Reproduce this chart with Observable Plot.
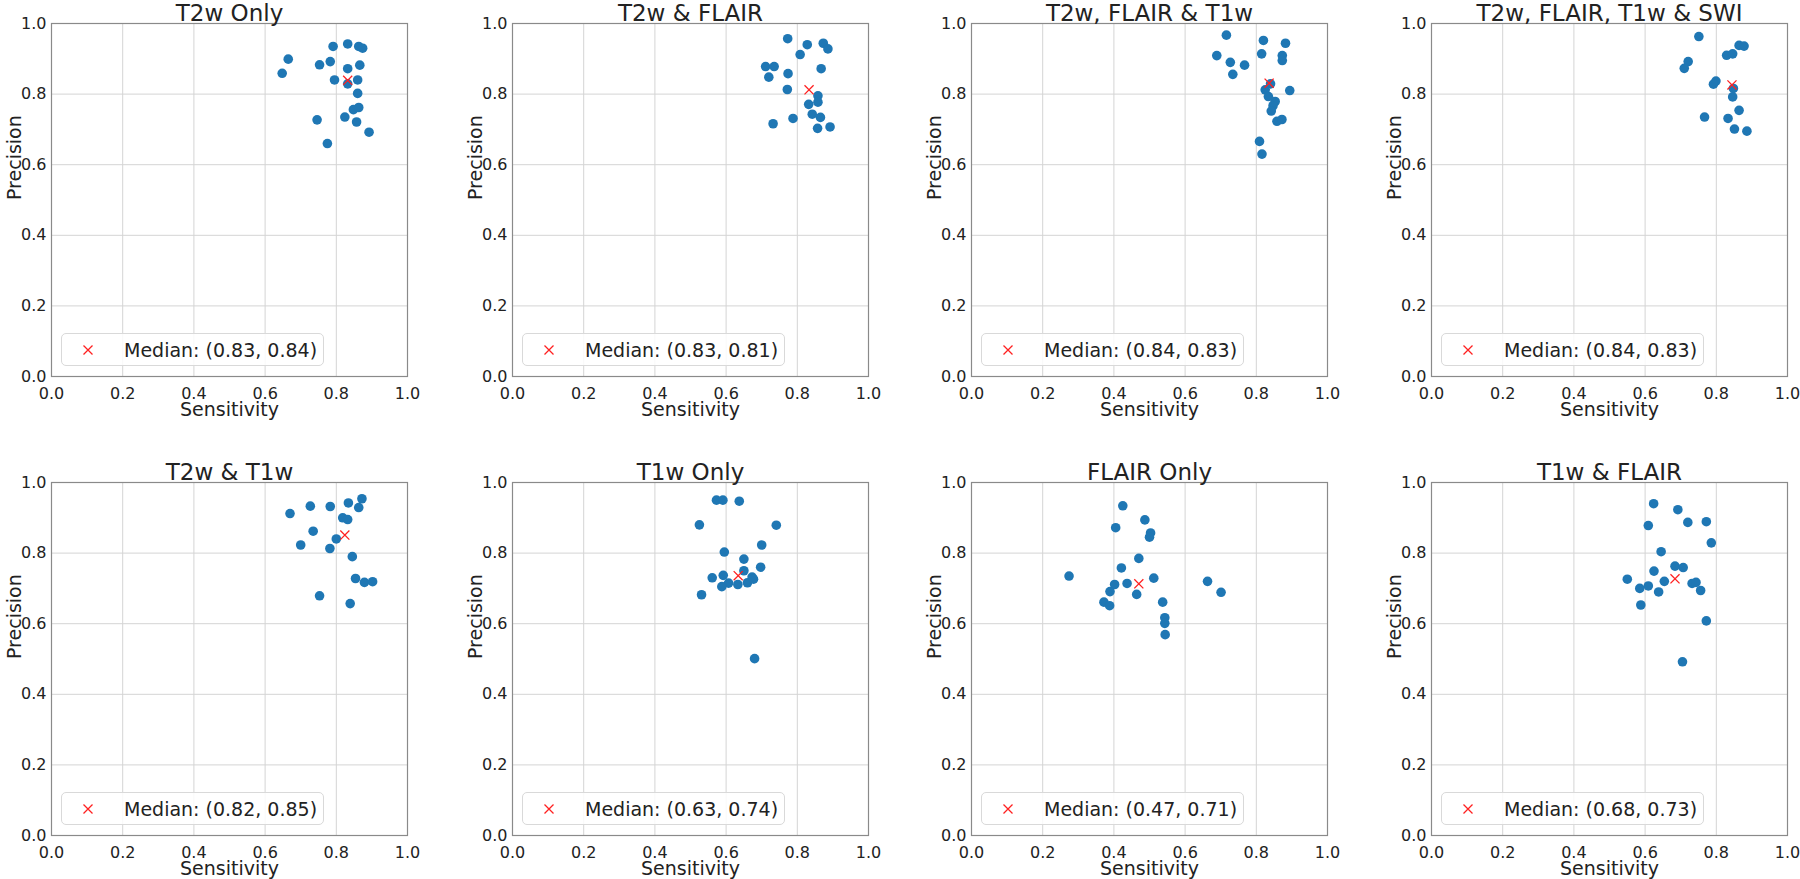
<!DOCTYPE html>
<html><head><meta charset="utf-8">
<script src="https://cdn.jsdelivr.net/npm/d3@7"></script>
<script src="https://cdn.jsdelivr.net/npm/@observablehq/plot@0.6"></script>
<style>
body{margin:0;background:#fff;overflow:hidden;}
#fig{position:relative;width:1800px;height:879px;font-family:"DejaVu Sans",sans-serif;}
.panel{position:absolute;}
.legend{position:absolute;background:rgba(255,255,255,0.85);border:1px solid #d9d9d9;border-radius:5px;font-size:19px;color:#222;box-sizing:border-box;font-family:"DejaVu Sans",sans-serif;}
.legend svg{position:absolute;left:20px;top:10px;}
.legend span{position:absolute;left:62px;top:50%;transform:translateY(-50%);white-space:nowrap;}
</style></head><body><div id="fig"></div>
<script>
// ---- data ----
const titles = ["T2w Only", "T2w & FLAIR", "T2w, FLAIR & T1w", "T2w, FLAIR, T1w & SWI",
                "T2w & T1w", "T1w Only", "FLAIR Only", "T1w & FLAIR"];
const xTicks = [0, 0.2, 0.4, 0.6, 0.8, 1.0];
const yTicks = [0, 0.2, 0.4, 0.6, 0.8, 1.0];

const sensT2w = [0.791,0.832,0.863,0.874,0.665,0.648,0.753,0.783,0.832,0.866,0.795,0.832,0.860,0.860,0.848,0.863,0.746,0.824,0.857,0.892,0.775];
const precT2w = [0.935,0.942,0.935,0.930,0.899,0.859,0.883,0.892,0.872,0.882,0.840,0.829,0.840,0.802,0.756,0.762,0.727,0.735,0.721,0.692,0.660];

const sensT2wFlair = [0.773,0.828,0.873,0.886,0.808,0.711,0.735,0.720,0.774,0.867,0.772,0.858,0.858,0.832,0.842,0.865,0.788,0.732,0.857,0.892];
const precT2wFlair = [0.957,0.940,0.944,0.928,0.912,0.878,0.878,0.848,0.858,0.872,0.813,0.795,0.777,0.771,0.743,0.734,0.731,0.716,0.703,0.707];

const sensT2wFlairT1w = [0.716,0.820,0.882,0.689,0.815,0.873,0.873,0.727,0.767,0.734,0.840,0.894,0.825,0.834,0.853,0.847,0.842,0.858,0.872,0.809,0.816];
const precT2wFlairT1w = [0.967,0.952,0.944,0.909,0.914,0.909,0.895,0.890,0.882,0.856,0.829,0.810,0.812,0.793,0.779,0.767,0.752,0.723,0.728,0.666,0.630];

const sensAll = [0.751,0.864,0.878,0.829,0.846,0.721,0.710,0.799,0.792,0.848,0.846,0.864,0.767,0.833,0.851,0.886];
const precAll = [0.963,0.938,0.936,0.910,0.914,0.892,0.873,0.837,0.828,0.816,0.792,0.754,0.735,0.731,0.701,0.695];

const sensT2wT1w = [0.670,0.727,0.783,0.834,0.872,0.863,0.818,0.832,0.735,0.800,0.700,0.782,0.845,0.854,0.879,0.902,0.753,0.839];
const precT2wT1w = [0.912,0.933,0.932,0.942,0.954,0.929,0.900,0.895,0.862,0.840,0.823,0.813,0.790,0.728,0.717,0.719,0.679,0.657];

const sensT1w = [0.573,0.591,0.637,0.525,0.741,0.700,0.595,0.650,0.650,0.697,0.561,0.592,0.673,0.607,0.588,0.633,0.660,0.677,0.531,0.680];
const precT1w = [0.950,0.950,0.947,0.880,0.879,0.823,0.803,0.783,0.750,0.760,0.730,0.737,0.732,0.715,0.705,0.711,0.716,0.726,0.682,0.501];

const sensFlair = [0.425,0.487,0.405,0.503,0.500,0.470,0.421,0.274,0.512,0.402,0.437,0.389,0.464,0.372,0.388,0.537,0.543,0.543,0.544,0.663,0.701];
const precFlair = [0.934,0.894,0.872,0.857,0.845,0.785,0.758,0.735,0.729,0.711,0.714,0.691,0.683,0.661,0.651,0.661,0.617,0.601,0.569,0.720,0.689];

const sensT1wFlair = [0.624,0.692,0.720,0.772,0.609,0.786,0.645,0.684,0.707,0.625,0.550,0.654,0.609,0.585,0.638,0.732,0.743,0.756,0.588,0.772,0.705];
const precT1wFlair = [0.940,0.923,0.887,0.889,0.878,0.829,0.804,0.763,0.759,0.749,0.726,0.720,0.707,0.700,0.690,0.714,0.717,0.694,0.653,0.608,0.492];

const medianSens = [0.832, 0.833, 0.836, 0.844, 0.824, 0.634, 0.470, 0.684];
const medianPrec = [0.839, 0.812, 0.831, 0.826, 0.851, 0.736, 0.713, 0.727];

// ---- layout ----
const sensList = [sensT2w, sensT2wFlair, sensT2wFlairT1w, sensAll, sensT2wT1w, sensT1w, sensFlair, sensT1wFlair];
const precList = [precT2w, precT2wFlair, precT2wFlairT1w, precAll, precT2wT1w, precT1w, precFlair, precT1wFlair];
const colLeft = [51, 512, 971, 1431];
const rowTop = [23, 482];
const W = 356, H = 353;
const mL = 51, mT = 23, mR = 12, mB = 44;
const fmt2 = d3.format(".2f");
const fig = document.getElementById("fig");

titles.forEach((title, i) => {
  const col = i % 4, row = Math.floor(i / 4);
  const pts = sensList[i].map((s, j) => ({s, p: precList[i][j]}));
  const med = [{s: medianSens[i], p: medianPrec[i]}];
  const chart = Plot.plot({
    width: mL + W + mR,
    height: mT + H + mB,
    marginLeft: mL, marginTop: mT, marginRight: mR, marginBottom: mB,
    style: {fontFamily: "DejaVu Sans, sans-serif", color: "#222", background: "transparent", overflow: "visible"},
    x: {domain: [0, 1]},
    y: {domain: [0, 1]},
    marks: [
      Plot.gridX(xTicks, {stroke: "#d4d4d4", strokeOpacity: 1, strokeWidth: 1}),
      Plot.gridY(yTicks, {stroke: "#d4d4d4", strokeOpacity: 1, strokeWidth: 1}),
      Plot.frame({stroke: "#8a8a8a", strokeWidth: 1.2}),
      Plot.axisX({ticks: xTicks, tickSize: 0, tickPadding: 11, tickFormat: d3.format(".1f"), fontSize: 16, label: null}),
      Plot.axisY({ticks: yTicks, tickSize: 0, tickPadding: 5, tickFormat: d3.format(".1f"), fontSize: 16, label: null}),
      Plot.text(["Sensitivity"], {frameAnchor: "bottom", lineAnchor: "middle", dy: 33, fontSize: 19, text: d => d}),
      Plot.text(["Precision"], {frameAnchor: "left", dx: -37, rotate: -90, fontSize: 19, text: d => d}),
      Plot.text([title], {frameAnchor: "top", dy: -3, lineAnchor: "bottom", fontSize: 23, text: d => d}),
      Plot.dot(pts, {x: "s", y: "p", r: 4.8, fill: "#1f77b4", stroke: "none"}),
      Plot.dot(med, {x: "s", y: "p", symbol: "times", r: 4.2, stroke: "#ff2020", strokeWidth: 1.3})
    ]
  });
  const wrap = document.createElement("div");
  wrap.className = "panel";
  wrap.style.left = (colLeft[col] - mL) + "px";
  wrap.style.top = (rowTop[row] - mT) + "px";
  wrap.appendChild(chart);
  fig.appendChild(wrap);

  const leg = document.createElement("div");
  leg.className = "legend";
  leg.style.left = (colLeft[col] + 10) + "px";
  leg.style.top = (rowTop[row] + H - 10 - 33) + "px";
  leg.style.width = "263px";
  leg.style.height = "33px";
  leg.innerHTML = '<svg width="12" height="12" viewBox="0 0 12 12"><path d="M1.5,1.5L10.5,10.5M10.5,1.5L1.5,10.5" stroke="#ff2020" stroke-width="1.3"/></svg>' +
    '<span>Median: (' + fmt2(medianSens[i]) + ', ' + fmt2(medianPrec[i]) + ')</span>';
  fig.appendChild(leg);
});
</script>
</body></html>
